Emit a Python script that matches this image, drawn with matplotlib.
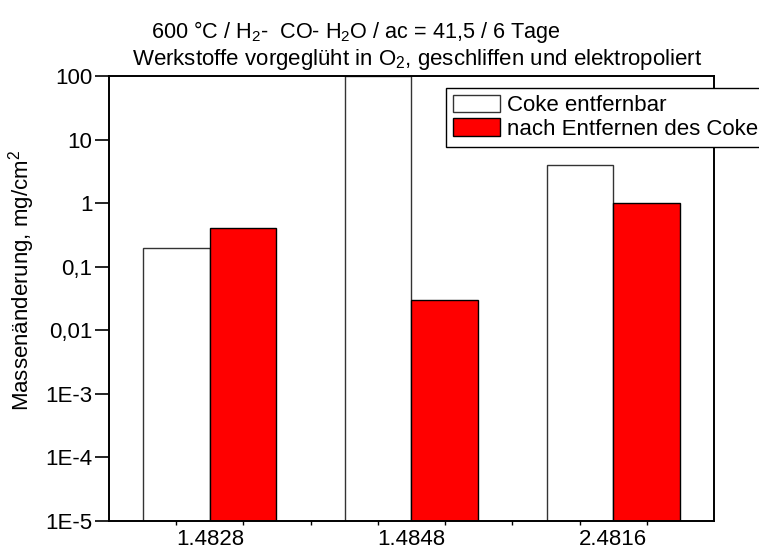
import numpy as np
import matplotlib
matplotlib.use("Agg")
import matplotlib.pyplot as plt
from matplotlib.ticker import FixedLocator, NullFormatter

plt.rcParams['font.family'] = ['Liberation Sans', 'DejaVu Sans']
plt.rcParams['mathtext.fontset'] = 'custom'
plt.rcParams['mathtext.rm'] = 'Liberation Sans'
plt.rcParams['mathtext.it'] = 'Liberation Sans'

# ---------- Data ----------
werkstoffe = ["1.4828", "1.4848", "2.4816"]
coke_entfernbar = [0.2, 100.0, 4.0]
nach_entfernen = [0.4, 0.03, 1.0]
serien = ["Coke entfernbar", "nach Entfernen des Coke"]

y_ticks = [1e-5, 1e-4, 1e-3, 1e-2, 1e-1, 1, 10, 100]
y_labels = ["1E-5", "1E-4", "1E-3", "0,01", "0,1", "1", "10", "100"]

FS = 16

# ---------- Figure ----------
fig = plt.figure(figsize=(7.59, 5.55), dpi=100)
ax = fig.add_axes([0.1436, 0.0613, 0.7971, 0.8017])

x = np.arange(1, len(werkstoffe) + 1)
w = 0.33
ax.bar(x - w / 2, coke_entfernbar, w, color="white", edgecolor="#333333",
       linewidth=1.0, label=serien[0])
ax.bar(x + w / 2, nach_entfernen, w, color="#ff0000", edgecolor="black",
       linewidth=1.0, label=serien[1])

ax.set_yscale("log")
ax.set_ylim(1e-5, 100)
ax.set_xlim(0.5, 3.5)

ax.yaxis.set_major_locator(FixedLocator(y_ticks))
ax.set_yticklabels(y_labels)
ax.yaxis.set_minor_locator(FixedLocator([]))
ax.tick_params(axis="y", which="major", direction="out", length=10, width=1.2,
               labelsize=FS, pad=2)

ax.set_xticks(x)
ax.set_xticklabels(werkstoffe)
ax.tick_params(axis="x", which="major", length=0, labelsize=FS, pad=6)
ax.xaxis.set_minor_locator(FixedLocator(0.5 + np.arange(1, 9) / 3))
ax.xaxis.set_minor_formatter(NullFormatter())
ax.tick_params(axis="x", which="minor", direction="out", length=3, width=1)

for s in ax.spines.values():
    s.set_linewidth(1.4)

ax.set_ylabel("Massenänderung, mg/cm$^2$", fontsize=FS)
ax.yaxis.set_label_coords(-0.119, 0.54)

# ---------- Titles ----------
fig.text(151 / 759, 1 - 38 / 555, "600 °C / H$_2$-  CO- H$_2$O / ac = 41,5 / 6 Tage",
         fontsize=15.6, ha="left", va="baseline")
fig.text(132 / 759, 1 - 65 / 555,
         "Werkstoffe vorgeglüht in O$_2$, geschliffen und elektropoliert",
         fontsize=FS, ha="left", va="baseline")

# ---------- Legend ----------
leg = ax.legend(loc="upper left", bbox_to_anchor=(446 / 759, 1 - 88 / 555),
                bbox_transform=fig.transFigure, borderaxespad=0, fontsize=FS,
                fancybox=False, framealpha=1, edgecolor="black",
                handlelength=2.15, handleheight=0.85, handletextpad=0.3,
                labelspacing=0.1, borderpad=0.3)
leg.get_frame().set_linewidth(1.0)

fig.savefig("out.png", dpi=100)
